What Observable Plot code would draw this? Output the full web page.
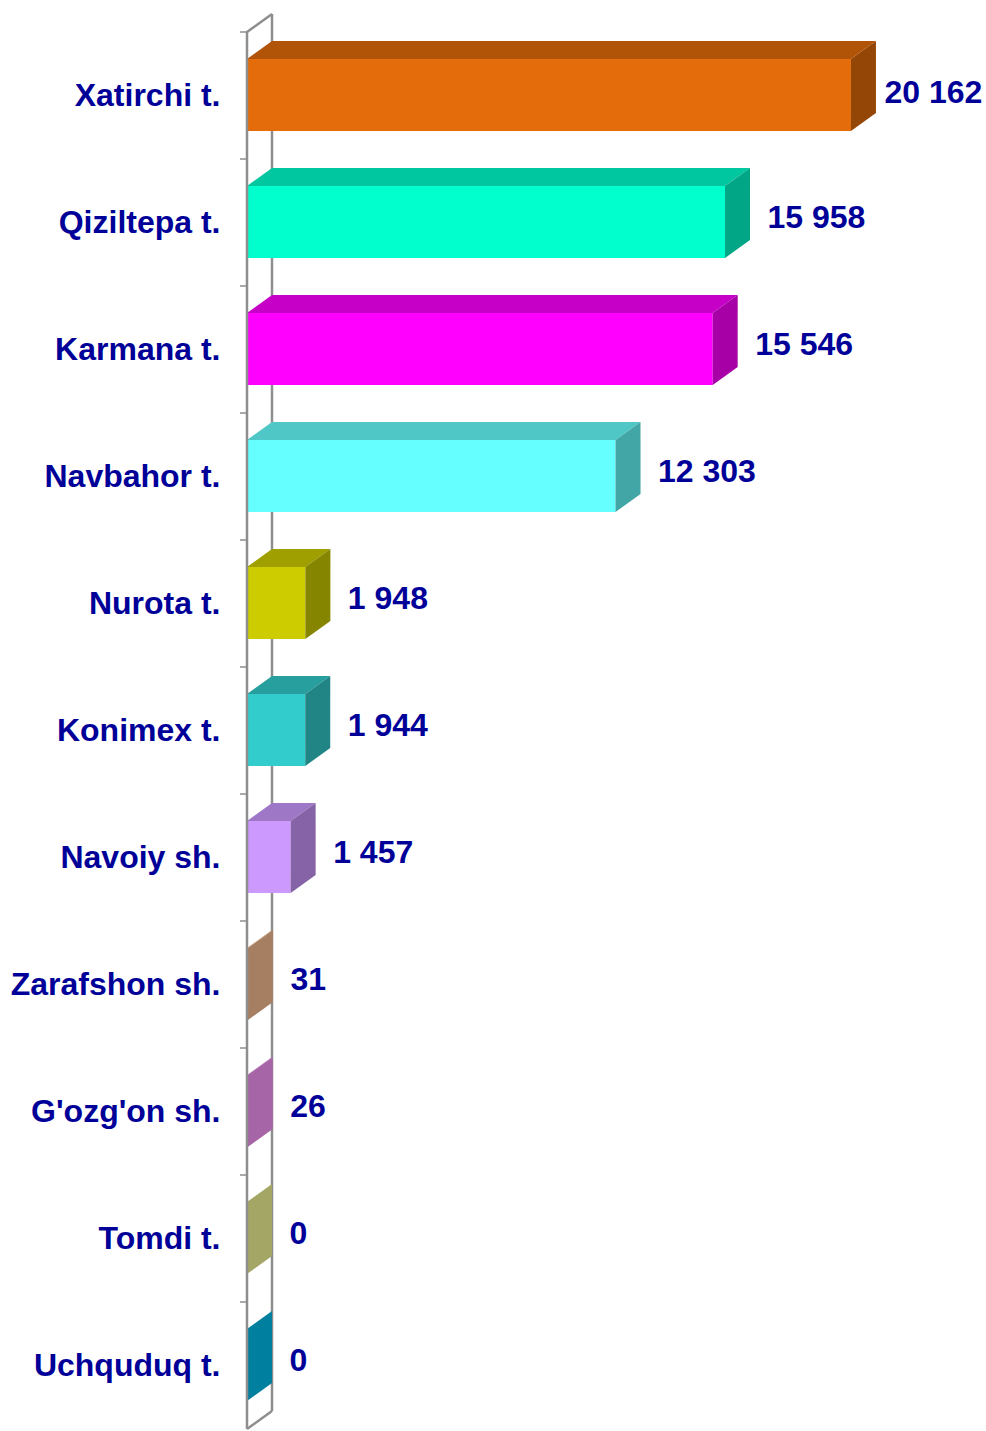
<!DOCTYPE html>
<html><head><meta charset="utf-8">
<script src="https://cdn.jsdelivr.net/npm/d3@7"></script>
<script src="https://cdn.jsdelivr.net/npm/@observablehq/plot@0.6"></script>
<style>body{margin:0;background:#fff} svg{display:block}</style>
</head><body><div id="chart"></div>
<script>
const categories = ["Xatirchi t.", "Qiziltepa t.", "Karmana t.", "Navbahor t.", "Nurota t.", "Konimex t.", "Navoiy sh.", "Zarafshon sh.", "G'ozg'on sh.", "Tomdi t.", "Uchquduq t."];
const values = [20162, 15958, 15546, 12303, 1948, 1944, 1457, 31, 26, 0, 0];
const colors = ["#E46C0A", "#00FFCC", "#FF00FF", "#66FFFF", "#CCCC00", "#33CCCC", "#CC99FF", "#FFC497", "#FF9CFF", "#FBFF9A", "#00C3F5"];

const W = 986, H = 1431;
const DX = 25, DY = 18;          // 3D depth offset (px)
const INSET_T = 27, INSET_B = 28; // bar thickness inside band
const TEXT = "#000099";
const AXIS = "#8E8E8E";
const FS = 32;
const fmt = v => d3.format(",")(v).replace(/,/g, " ");
const rows = categories.map((c, i) => ({cat: c, value: values[i], color: colors[i]}));
const maxV = d3.max(values);

function shade(col, k) {
  const c = d3.rgb(col);
  return d3.rgb(c.r * k, c.g * k, c.b * k).formatHex();
}
function bandOf(scales) {
  const ys = scales.y;
  return ys.bandwidth ? ys.bandwidth() : scales.scales.y.bandwidth;
}

function wallsBack(index, scales) {
  const xs = scales.x, ys = scales.y, bw = bandOf(scales);
  const x0 = xs(0);
  const yTop = ys(categories[0]), yBot = ys(categories[categories.length - 1]) + bw;
  const g = d3.create("svg:g").attr("stroke", AXIS).attr("stroke-width", 2.5).attr("fill", "none");
  g.append("line").attr("x1", x0 + DX).attr("x2", x0 + DX).attr("y1", yTop - DY).attr("y2", yBot - DY);
  g.append("line").attr("x1", x0).attr("x2", x0 + DX).attr("y1", yTop).attr("y2", yTop - DY);
  g.append("line").attr("x1", x0).attr("x2", x0 + DX).attr("y1", yBot).attr("y2", yBot - DY);
  return g.node();
}

function faces(index, scales) {
  const xs = scales.x, ys = scales.y, bw = bandOf(scales);
  const g = d3.create("svg:g");
  rows.forEach(d => {
    const x0 = xs(0), x1 = xs(d.value);
    const yt = ys(d.cat) + INSET_T, yb = ys(d.cat) + bw - INSET_B;
    if (x1 > x0) {
      g.append("path")
        .attr("d", `M${x0},${yt}L${x1},${yt}L${x1 + DX},${yt - DY}L${x0 + DX},${yt - DY}Z`)
        .attr("fill", shade(d.color, 0.78));
    }
    g.append("path")
      .attr("d", `M${x1},${yt}L${x1 + DX},${yt - DY}L${x1 + DX},${yb - DY}L${x1},${yb}Z`)
      .attr("fill", shade(d.color, 0.65));
  });
  return g.node();
}

function wallsFront(index, scales) {
  const xs = scales.x, ys = scales.y, bw = bandOf(scales);
  const x0 = xs(0);
  const yTop = ys(categories[0]), yBot = ys(categories[categories.length - 1]) + bw;
  const g = d3.create("svg:g").attr("stroke", AXIS).attr("stroke-width", 2.5).attr("fill", "none");
  g.append("line").attr("x1", x0).attr("x2", x0).attr("y1", yTop - 1).attr("y2", yBot);
  categories.forEach(c => {
    const y = ys(c);
    g.append("line").attr("x1", x0 - 7).attr("x2", x0).attr("y1", y).attr("y2", y).attr("stroke-width", 1.5);
  });
  return g.node();
}

const plot = Plot.plot({
  width: W, height: H,
  marginLeft: 247, marginRight: 80, marginTop: 30, marginBottom: 0,
  x: {domain: [0, 22000], axis: null},
  y: {domain: categories, axis: null, padding: 0},
  color: {type: "identity"},
  style: {fontFamily: "'Liberation Sans', Arial, sans-serif", background: "#fff", overflow: "visible"},
  marks: [
    wallsBack,
    Plot.barX(rows, {x: "value", y: "cat", fill: d => d.color, insetTop: INSET_T, insetBottom: INSET_B}),
    faces,
    wallsFront,
    Plot.text(rows, {x: 0, y: "cat", text: "cat", textAnchor: "end", dx: -27, fontSize: FS, fontWeight: "bold", fill: TEXT}),
    Plot.text(rows.filter(d => d.value === maxV), {x: "value", y: "cat", text: d => fmt(d.value), textAnchor: "start", dx: 33, dy: -3, fontSize: FS, fontWeight: "bold", fill: TEXT}),
    Plot.text(rows.filter(d => d.value !== maxV), {x: "value", y: "cat", text: d => fmt(d.value), textAnchor: "start", dx: 42, dy: -5, fontSize: FS, fontWeight: "bold", fill: TEXT})
  ]
});
document.getElementById("chart").appendChild(plot);
</script>
</body></html>
